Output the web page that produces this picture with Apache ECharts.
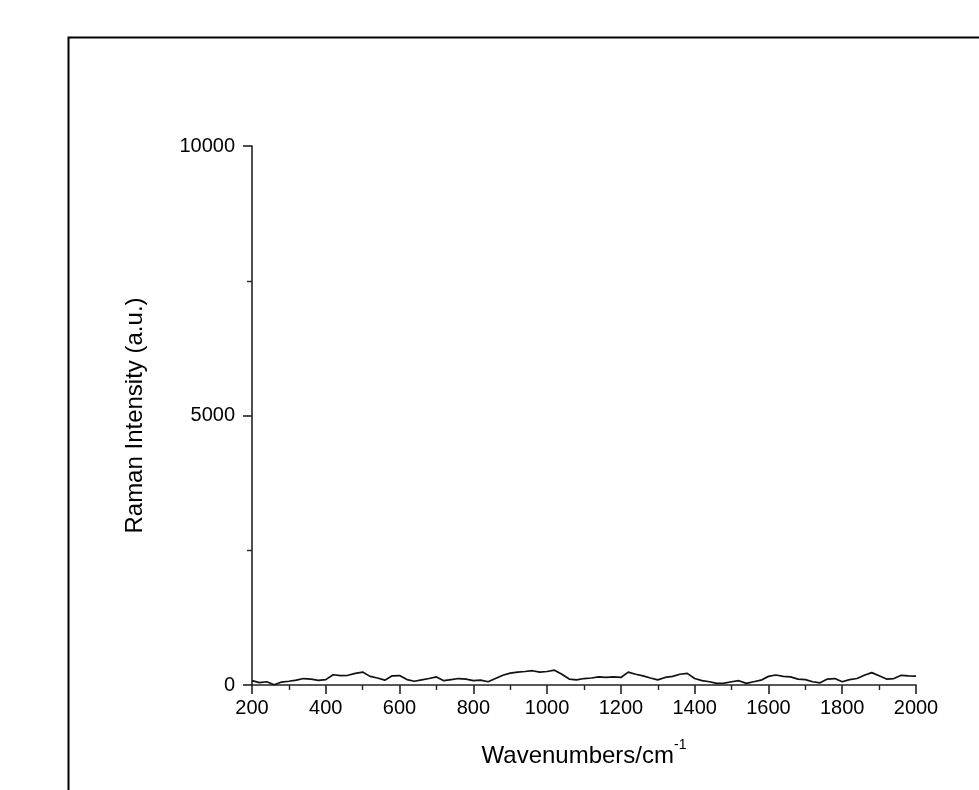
<!DOCTYPE html>
<html>
<head>
<meta charset="utf-8">
<script src="https://cdn.jsdelivr.net/npm/echarts@6/dist/echarts.min.js"></script>
<style>
html, body {
  margin: 0;
  padding: 0;
  background: #fff;
}
#myChart {
  width: 979px;
  height: 790px;
}
</style>
</head>
<body>
<div id="myChart"></div>
<script>
// spectrum, step 20 cm-1
var wavenumbers = [200, 220, 240, 260, 280, 300, 320, 340, 360, 380,
  400, 420, 440, 460, 480, 500, 520, 540, 560, 580,
  600, 620, 640, 660, 680, 700, 720, 740, 760, 780,
  800, 820, 840, 860, 880, 900, 920, 940, 960, 980,
  1000, 1020, 1040, 1060, 1080, 1100, 1120, 1140, 1160, 1180,
  1200, 1220, 1240, 1260, 1280, 1300, 1320, 1340, 1360, 1380,
  1400, 1420, 1440, 1460, 1480, 1500, 1520, 1540, 1560, 1580,
  1600, 1620, 1640, 1660, 1680, 1700, 1720, 1740, 1760, 1780,
  1800, 1820, 1840, 1860, 1880, 1900, 1920, 1940, 1960, 1980, 2000]
var intensity = [80, 45, 60, 5, 55, 70, 90, 120, 110, 85,
  100, 190, 175, 180, 215, 240, 160, 130, 90, 170,
  175, 100, 70, 95, 120, 150, 80, 100, 120, 110,
  80, 90, 60, 120, 180, 220, 240, 250, 265, 240,
  250, 275, 200, 110, 95, 120, 130, 150, 140, 150,
  140, 240, 200, 170, 130, 95, 140, 160, 200, 215,
  120, 80, 60, 30, 35, 60, 80, 30, 60, 90,
  160, 185, 160, 150, 110, 100, 60, 40, 110, 120,
  60, 100, 120, 180, 230, 170, 110, 120, 180, 170, 165]
var yTicks = [0, 5000, 10000]

var points = wavenumbers.map(function (w, i) { return [w, intensity[i]] })

var tickFont = {
  color: '#000',
  fontSize: 20,
  fontFamily: 'Liberation Sans, Arial, sans-serif',
  formatter: function (v) { return String(v) }
}

var myChart = echarts.init(document.getElementById('myChart'))
myChart.setOption({
  animation: false,
  backgroundColor: '#fff',
  graphic: [
    {
      type: 'rect',
      left: 66,
      top: 35,
      shape: { width: 1000, height: 1000 },
      style: { fill: 'none', stroke: '#000', lineWidth: 2 },
      silent: true
    }
  ],
  grid: {
    left: 252,
    right: 63,
    top: 146,
    bottom: 105
  },
  xAxis: {
    type: 'value',
    min: 200,
    max: 2000,
    interval: 200,
    name: '{a|Wavenumbers/cm}{s|-1}',
    nameLocation: 'middle',
    nameGap: 53,
    nameTextStyle: {
      rich: {
        a: { fontSize: 24, color: '#000', fontFamily: 'Liberation Sans, Arial, sans-serif', lineHeight: 30, verticalAlign: 'bottom' },
        s: { fontSize: 14, color: '#000', fontFamily: 'Liberation Sans, Arial, sans-serif', lineHeight: 30, verticalAlign: 'top' }
      }
    },
    axisLine: { onZero: false, lineStyle: { color: '#222', width: 1.6 } },
    axisTick: { length: 9, lineStyle: { color: '#222', width: 1.6 } },
    minorTick: { show: true, splitNumber: 2, length: 5, lineStyle: { color: '#222', width: 1.4 } },
    axisLabel: Object.assign({ margin: 13 }, tickFont),
    splitLine: { show: false }
  },
  yAxis: {
    type: 'value',
    min: yTicks[0],
    max: yTicks[yTicks.length - 1],
    interval: 5000,
    name: 'Raman Intensity (a.u.)',
    nameLocation: 'middle',
    nameGap: 105,
    nameTextStyle: {
      color: '#000',
      fontSize: 24,
      fontFamily: 'Liberation Sans, Arial, sans-serif'
    },
    axisLine: { show: true, onZero: false, lineStyle: { color: '#222', width: 1.6 } },
    axisTick: { show: true, length: 9, lineStyle: { color: '#222', width: 1.6 } },
    minorTick: { show: true, splitNumber: 2, length: 5, lineStyle: { color: '#222', width: 1.4 } },
    axisLabel: Object.assign({ margin: 17 }, tickFont),
    splitLine: { show: false }
  },
  series: [
    {
      type: 'line',
      data: points,
      symbol: 'none',
      lineStyle: { color: '#111', width: 1.7 }
    }
  ]
})
</script>
</body>
</html>
